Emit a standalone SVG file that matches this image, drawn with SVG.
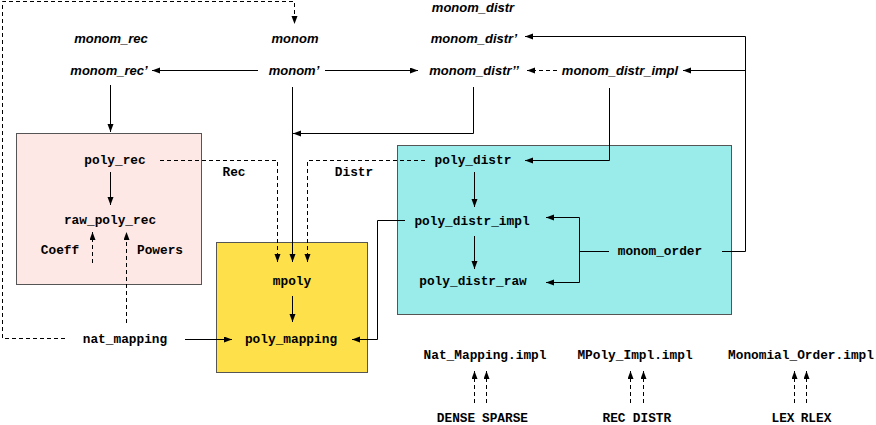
<svg xmlns="http://www.w3.org/2000/svg" width="876" height="425" viewBox="0 0 876 425">
<defs>
<marker id="ah" markerUnits="userSpaceOnUse" markerWidth="9" markerHeight="7" refX="8" refY="3" orient="auto">
<path d="M0,0 L8,3 L0,6 z" fill="#000"/>
</marker>
<style>
.it{font-family:"Liberation Sans",Arial,sans-serif;font-weight:bold;font-style:italic;font-size:13px;text-anchor:middle;fill:#000}
.mo{font-family:"Liberation Mono","Courier New",monospace;font-weight:bold;font-size:12.8px;text-anchor:middle;fill:#000}
.c{fill:none;stroke:#000;stroke-width:1;marker-end:url(#ah)}
.l{fill:none;stroke:#000;stroke-width:1}
.d{stroke-dasharray:4,3}
.box{stroke:#555;stroke-width:1}
</style>
</defs>
<g id="boxes">
<rect id="recbox" x="16.5" y="133.5" width="185" height="151" fill="#fde8e6" class="box"/>
<rect id="distrbox" x="397.5" y="145.5" width="334" height="169" fill="#9aeceb" class="box"/>
<rect id="mpolybox" x="216.5" y="242.5" width="151" height="130" fill="#fde04a" class="box"/>
</g>
<g id="connectors">
<path class="c d" d="M65,338.5 H2.5 V1.5 H294.5 V24"/>
<path class="c" d="M258,70.5 H152"/>
<path class="c" d="M325,70.5 H418"/>
<path class="c d" d="M557,70.5 H527"/>
<path class="c" d="M722,251.5 H745.5 V36.5 H525"/>
<path class="c" d="M745.5,70.5 H683"/>
<path class="c" d="M110.5,85 V132"/>
<path class="c" d="M292.5,87 V262"/>
<path class="c" d="M473.5,87 V133.5 H293"/>
<path class="c" d="M609.5,88 V160.5 H525"/>
<path class="c" d="M110.5,172 V205"/>
<path class="c d" d="M92.5,263 V232"/>
<path class="c d" d="M126.5,323 V232"/>
<path class="c d" d="M160,160.5 H277.5 V262"/>
<path class="c d" d="M425,160.5 H307.5 V262"/>
<path class="c" d="M292.5,296 V322"/>
<path class="c" d="M185,339.5 H232"/>
<path class="c" d="M405,220.5 H377.5 V339.5 H352"/>
<path class="c" d="M474.5,172 V207"/>
<path class="c" d="M474.5,236 V269"/>
<path class="l" d="M609,251.5 H579.5 M579.5,217.5 V282.5"/>
<path class="c" d="M579.5,217.5 H546"/>
<path class="c" d="M579.5,282.5 H546"/>
<path class="c d" d="M474.5,403 V371"/>
<path class="c d" d="M486.5,403 V371"/>
<path class="c d" d="M630.5,403 V371"/>
<path class="c d" d="M643.5,403 V371"/>
<path class="c d" d="M794.5,403 V371"/>
<path class="c d" d="M806.5,403 V371"/>
</g>
<g id="monom_rec"><text class="it" x="111" y="42.5">monom_rec</text></g>
<g id="monom_rec_p"><text class="it" x="109" y="74.5">monom_rec’</text></g>
<g id="monom"><text class="it" x="295" y="42.5">monom</text></g>
<g id="monom_p"><text class="it" x="294" y="74.5">monom’</text></g>
<g id="monom_distr"><text class="it" x="473" y="12">monom_distr</text></g>
<g id="monom_distr_p"><text class="it" x="474" y="42.5">monom_distr’</text></g>
<g id="monom_distr_pp"><text class="it" x="474" y="74.5">monom_distr’’</text></g>
<g id="monom_distr_impl"><text class="it" x="620" y="74.5">monom_distr_impl</text></g>
<g id="poly_rec"><text class="mo" x="115" y="164">poly_rec</text></g>
<g id="raw_poly_rec"><text class="mo" x="110" y="224">raw_poly_rec</text></g>
<g id="coeff"><text class="mo" x="60" y="254">Coeff</text></g>
<g id="powers"><text class="mo" x="160" y="254">Powers</text></g>
<g id="nat_mapping"><text class="mo" x="125" y="343">nat_mapping</text></g>
<g id="rec_label"><text class="mo" x="234" y="176">Rec</text></g>
<g id="distr_label"><text class="mo" x="354" y="176">Distr</text></g>
<g id="mpoly"><text class="mo" x="292" y="285">mpoly</text></g>
<g id="poly_mapping"><text class="mo" x="291" y="343">poly_mapping</text></g>
<g id="poly_distr"><text class="mo" x="473" y="164">poly_distr</text></g>
<g id="poly_distr_impl"><text class="mo" x="472" y="225">poly_distr_impl</text></g>
<g id="poly_distr_raw"><text class="mo" x="473" y="285">poly_distr_raw</text></g>
<g id="monom_order"><text class="mo" x="660" y="255">monom_order</text></g>
<g id="nat_mapping_impl"><text class="mo" x="485" y="359">Nat_Mapping.impl</text></g>
<g id="mpoly_impl"><text class="mo" x="635" y="359">MPoly_Impl.impl</text></g>
<g id="monomial_order_impl"><text class="mo" x="801" y="359">Monomial_Order.impl</text></g>
<g id="dense"><text class="mo" x="456" y="422">DENSE</text></g>
<g id="sparse"><text class="mo" x="505" y="422">SPARSE</text></g>
<g id="rec"><text class="mo" x="614" y="422">REC</text></g>
<g id="distr"><text class="mo" x="652" y="422">DISTR</text></g>
<g id="lex"><text class="mo" x="783" y="422">LEX</text></g>
<g id="rlex"><text class="mo" x="816" y="422">RLEX</text></g>
</svg>
